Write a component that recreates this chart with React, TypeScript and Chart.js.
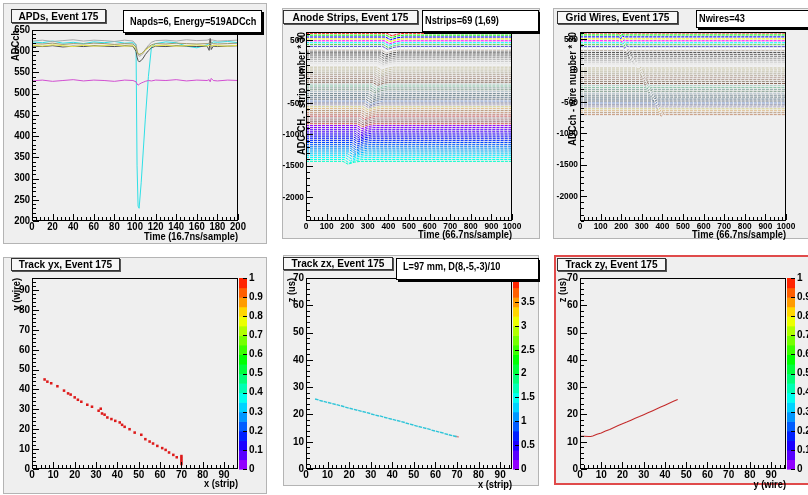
import React, { useEffect, useRef } from "react";
import { Chart, registerables } from "chart.js";
Chart.register(...registerables);

const FONT = '"Liberation Sans", Arial, Helvetica, sans-serif';
const PAD_BG = "#efefef";

// ---------------- APD traces (sample, ADC) ----------------
const apdSamples = [0, 10, 20, 30, 40, 50, 60, 70, 80, 90, 98, 101, 102, 103, 104, 106, 108, 110, 113, 116, 120, 130, 140, 150, 160, 170, 172, 173, 174, 176, 180, 190, 200];
const apdMagenta = [530, 532, 529, 531, 533, 530, 532, 531, 529, 532, 531, 528, 523, 520, 522, 525, 527, 529, 531, 530, 532, 531, 533, 530, 532, 531, 533, 528, 536, 531, 530, 532, 531];
const apdOlive = [618, 617, 619, 616, 618, 617, 619, 618, 616, 618, 617, 610, 600, 594, 592, 594, 598, 604, 610, 615, 618, 617, 619, 618, 617, 618, 619, 617, 620, 618, 617, 618, 619];
const apdYellow = [614, 612, 615, 613, 611, 614, 612, 613, 615, 612, 613, 606, 598, 594, 593, 594, 597, 602, 608, 612, 613, 614, 612, 613, 615, 612, 614, 613, 612, 614, 613, 612, 614];
const apdDarkGray = [612, 611, 613, 610, 612, 611, 613, 612, 611, 613, 612, 600, 586, 578, 575, 578, 584, 592, 601, 608, 612, 611, 613, 612, 611, 612, 602, 630, 604, 612, 611, 612, 613];
const apdLightGray = [624, 626, 623, 625, 627, 624, 626, 625, 623, 626, 624, 616, 602, 592, 588, 590, 595, 604, 614, 621, 625, 626, 624, 627, 625, 626, 628, 615, 627, 626, 624, 625, 626];
const apdCyan = [622, 620, 624, 619, 621, 618, 622, 620, 623, 619, 620, 615, 330, 235, 230, 290, 365, 440, 540, 610, 618, 622, 620, 612, 608, 615, 618, 620, 619, 622, 621, 623, 620];
const apdTraces = [apdMagenta, apdOlive, apdYellow, apdDarkGray, apdLightGray, apdCyan];
const apdColors = ["#d24fd2", "#a09a70", "#e6e645", "#505050", "#a8a8a8", "#2ee0e6"];

// ---------------- Anode strips ----------------
const stripBaseline = [610, 580, 550, 520, 490, 460, 430, 400, 370, 340, 310, 280, 250, 220, 190, 160, 130, 100, 70, 40, 10, -20, -50, -80, -110, -140, -170, -200, -230, -260, -290, -320, -350, -380, -410, -440, -470, -500, -530, -560, -590, -620, -650, -680, -710, -740, -770, -800, -830, -860, -890, -920, -950, -980, -1010, -1040, -1070, -1100, -1130, -1160, -1190, -1220, -1250, -1280, -1310, -1340, -1370, -1400, -1430];
const stripPulseTime = [417, 414, 411, 408, 405, 402, 400, 397, 394, 391, 389, 386, 383, 380, 378, 375, 373, 370, 368, 365, 363, 360, 358, 355, 353, 350, 348, 345, 341, 337, 334, 330, 326, 323, 319, 315, 312, 308, 305, 301, 298, 295, 292, 289, 286, 283, 280, 277, 275, 272, 269, 267, 264, 261, 259, 256, 253, 251, 248, 245, 243, 240, 238, 233, 227, 222, 216, 210, 204];
const stripPulseAmp = [40, 42, 45, 44, 48, 46, 50, 47, 45, 44, 46, 48, 50, 52, 49, 47, 45, 48, 50, 52, 54, 51, 49, 47, 46, 48, 50, 53, 55, 52, 50, 48, 46, 49, 51, 54, 56, 53, 50, 48, 47, 50, 52, 55, 57, 54, 51, 49, 48, 50, 53, 56, 58, 55, 52, 50, 48, 51, 54, 57, 59, 56, 53, 51, 49, 52, 55, 58, 45];

// ---------------- Grid wires ----------------
const wireBaseline = [599, 568, 537, 506, 475, 444, 413, 382, 351, 320, 289, 258, 227, 196, 165, 134, 103, 72, 41, 10, -21, -52, -83, -114, -145, -176, -207, -238, -269, -300, -331, -362, -393, -424, -455, -486, -517, -548, -579, -610, -641, -672, -703];
const wirePulseTime = [196, 199, 202, 205, 209, 213, 217, 221, 225, 229, 234, 238, 243, 251, 259, 267, 275, 283, 291, 295, 299, 303, 307, 311, 315, 319, 322, 326, 330, 335, 340, 345, 350, 355, 360, 365, 369, 374, 379, 384, 389, 394, 399];
const wirePulseAmp = [22, 25, 28, 24, 26, 23, 27, 25, 24, 26, 28, 25, 23, 27, 26, 24, 25, 28, 26, 23, 25, 27, 24, 26, 28, 25, 23, 26, 27, 24, 26, 28, 25, 23, 27, 26, 24, 25, 28, 26, 24, 27, 25];

// ---------------- Tracks ----------------
const trackYXStrip = [5.9, 7.2, 9.0, 11.9, 15.0, 16.9, 18.1, 20.0, 21.5, 23.1, 25.9, 28.1, 31.2, 32.2, 32.8, 34.0, 35.3, 37.2, 39.0, 41.1, 42.2, 43.4, 45.7, 48.1, 51.2, 53.1, 55.1, 56.7, 58.7, 61.0, 62.6, 64.2, 66.2, 67.8, 70, 70, 70, 70, 70];
const trackYXWire = [45.0, 43.9, 43.1, 41.6, 39.4, 38.0, 37.4, 36.0, 34.8, 33.8, 32.3, 31.3, 29.3, 30.3, 27.9, 27.3, 25.9, 25.1, 24.2, 23.4, 22.2, 21.2, 20.0, 18.3, 17.2, 15.0, 13.8, 12.8, 11.6, 10.5, 9.6, 8.3, 7.1, 5.9, 2.5, 3.5, 4.5, 5.5, 6.5];
const trackZXStrip = [5, 7, 9, 11, 13, 15, 17, 19, 21, 23, 25, 27, 29, 31, 33, 35, 37, 39, 41, 43, 45, 47, 49, 51, 53, 55, 57, 59, 61, 63, 65, 67, 69];
const trackZXTime = [25.5, 25.0, 24.6, 24.2, 23.8, 23.4, 23.0, 22.5, 22.1, 21.7, 21.3, 20.9, 20.5, 20.0, 19.6, 19.3, 18.8, 18.4, 18.0, 17.6, 17.2, 16.7, 16.3, 15.8, 15.4, 15.0, 14.6, 14.1, 13.7, 13.3, 12.8, 12.4, 12.0];
const trackZXEndStrip = [70];
const trackZXEndTime = [11.9];
const trackZYWire = [0, 2, 4, 5, 6, 8, 10, 12, 14, 16, 18, 20, 22, 24, 26, 28, 30, 32, 34, 36, 38, 40, 42, 44, 46];
const trackZYTime = [12.0, 12.0, 11.9, 11.9, 12.1, 12.7, 13.2, 13.9, 14.5, 15.2, 15.9, 16.6, 17.2, 17.9, 18.6, 19.2, 19.9, 20.6, 21.3, 22.0, 22.7, 23.4, 24.1, 24.8, 25.5];

// ---------------- Tick labels ----------------
const apdXTicks = [0, 20, 40, 60, 80, 100, 120, 140, 160, 180, 200];
const apdYTicks = [200, 250, 300, 350, 400, 450, 500, 550, 600, 650];
const timeXTicks = [0, 100, 200, 300, 400, 500, 600, 700, 800, 900, 1000];
const offsetYTicks = [-2000, -1500, -1000, -500, 0, 500];
const trackXTicks = [0, 10, 20, 30, 40, 50, 60, 70, 80, 90];
const trackZTicks = [0, 10, 20, 30, 40, 50, 60, 70];
const paletteUnitTicks = [0, 0.1, 0.2, 0.3, 0.4, 0.5, 0.6, 0.7, 0.8, 0.9, 1];
const paletteZXTicks = [0, 0.5, 1, 1.5, 2, 2.5, 3, 3.5, 4];

// ROOT default colour table (indices 0..50)
const ROOT_COLORS = ["#ffffff", "#000000", "#ff0000", "#00ff00", "#0000ff", "#ffff00", "#ff00ff", "#00ffff", "#59d454", "#5954d9",
  "#fefefe", "#c0b6ac", "#4d4d4d", "#666666", "#808080", "#999999", "#b3b3b3", "#cccccc", "#e6e6e6", "#f2f2f2",
  "#ccc7ab", "#ccc7ab", "#c2bfa8", "#bab5a3", "#b3a696", "#b8a39c", "#ad998c", "#9c8f82", "#876657", "#b0cfc7",
  "#85c2a3", "#8aa8a1", "#829e8c", "#adbdc7", "#7a8f99", "#758a91", "#698296", "#6e7a85", "#7d99d1", "#80809c",
  "#aba6bf", "#d4cf87", "#deba87", "#bd9e82", "#c7997d", "#bf8278", "#cf5e61", "#ab8f94", "#a6787a", "#946970", "#d45954"];

function rootColor(i: number): string {
  if (i < ROOT_COLORS.length) return ROOT_COLORS[i];
  const hue = 280 - (i - 50) * 5.6;
  return `hsl(${hue},100%,50%)`;
}
function paletteBand(k: number, n: number): string {
  const hue = 280 - ((k * 50) / n + 1) * 5.6;
  return `hsl(${Math.max(0, hue)},100%,50%)`;
}

function txt(c: CanvasRenderingContext2D, s: string, x: number, y: number, size: number, align: CanvasTextAlign, hs = 0.92, rot = 0) {
  c.save();
  c.translate(x, y);
  if (rot) c.rotate(rot);
  c.scale(hs, 1);
  c.font = `bold ${size}px ${FONT}`;
  c.textAlign = align;
  c.textBaseline = "middle";
  c.fillStyle = "#000";
  c.fillText(s, 0, 0);
  c.restore();
}

type Box = { text: string; x: number; y: number; w: number; h: number; tx?: number; ty?: number };
type Ax = { major: number; minor: number; start: number; ticks: number[] };
interface Spec {
  pad: [number, number, number, number];
  padColor: string;
  padWidth: number;
  xa: Ax;
  ya: Ax;
  labelSize: number;
  labelHs: number;
  xLabelY: number;
  xTitle: string;
  xTitleY: number;
  yTitle: string;
  yTitleX: number;
  title: Box;
  stats?: Box;
  palette?: { x0: number; x1: number; max: number; ticks: number[] };
}

function makePlugin(S: Spec) {
  return {
    id: "rootpad",
    beforeDraw(chart: any) {
      const c: CanvasRenderingContext2D = chart.ctx;
      c.save();
      c.fillStyle = "#ffffff";
      c.fillRect(0, 0, chart.width, chart.height);
      const [px, py, pw, ph] = S.pad;
      c.fillStyle = PAD_BG;
      c.fillRect(px, py, pw, ph);
      c.restore();
    },
    afterDraw(chart: any) {
      const c: CanvasRenderingContext2D = chart.ctx;
      const { left, right, top, bottom } = chart.chartArea;
      const xs = chart.scales.x;
      const ys = chart.scales.y;
      c.save();
      const [px, py, pw, ph] = S.pad;
      c.strokeStyle = S.padColor;
      c.lineWidth = S.padWidth;
      const off = S.padWidth % 2 ? 0.5 : 0;
      c.strokeRect(px + off, py + off, pw, ph);
      c.strokeStyle = "#000";
      c.lineWidth = 1;
      c.strokeRect(left + 0.5, top + 0.5, right - left - 1, bottom - top - 1);
      const isMajor = (v: number, m: number) => Math.abs(v / m - Math.round(v / m)) < 1e-6;
      c.beginPath();
      for (let k = 0; ; k++) {
        const v = S.xa.start + k * S.xa.minor;
        if (v > xs.max + 1e-9) break;
        const p = Math.round(xs.getPixelForValue(v)) + 0.5;
        const len = isMajor(v, S.xa.major) ? 6 : 3;
        c.moveTo(p, bottom - 1);
        c.lineTo(p, bottom - 1 - len);
      }
      for (let k = 0; ; k++) {
        const v = S.ya.start + k * S.ya.minor;
        if (v > ys.max + 1e-9) break;
        const p = Math.round(ys.getPixelForValue(v)) + 0.5;
        const len = isMajor(v, S.ya.major) ? 6 : 3;
        c.moveTo(left + 1, p);
        c.lineTo(left + 1 + len, p);
      }
      c.stroke();
      for (const v of S.xa.ticks) txt(c, String(v), xs.getPixelForValue(v), S.xLabelY, S.labelSize, "center", S.labelHs);
      for (const v of S.ya.ticks) txt(c, String(v), left - 2, ys.getPixelForValue(v), S.labelSize, "right", S.labelHs);
      txt(c, S.xTitle, right, S.xTitleY, 10, "right", 0.93);
      txt(c, S.yTitle, S.yTitleX, top, 10, "right", 0.93, -Math.PI / 2);
      if (S.palette) {
        const P = S.palette;
        const n = 20;
        const h = (bottom - top) / n;
        for (let k = 0; k < n; k++) {
          c.fillStyle = paletteBand(k, n);
          c.fillRect(P.x0, bottom - (k + 1) * h, P.x1 - P.x0, h + 0.6);
        }
        c.strokeStyle = "#000";
        c.beginPath();
        for (const v of P.ticks) {
          const y = Math.round(bottom - (v / P.max) * (bottom - top)) + 0.5;
          c.moveTo(P.x1, y);
          c.lineTo(P.x1 - 4, y);
        }
        c.stroke();
        for (const v of P.ticks) {
          const y = bottom - (v / P.max) * (bottom - top);
          txt(c, String(v), P.x1 + 2, y, S.labelSize, "left", S.labelHs);
        }
      }
      const T = S.title;
      c.fillStyle = "#555";
      c.fillRect(T.x + 1, T.y + 1, T.w, T.h);
      c.fillStyle = "#f7f7f7";
      c.fillRect(T.x, T.y, T.w, T.h);
      c.strokeStyle = "#333";
      c.lineWidth = 1;
      c.strokeRect(T.x + 0.5, T.y + 0.5, T.w - 1, T.h - 1);
      txt(c, T.text, T.x + T.w / 2, T.y + T.h / 2 + 0.5, 11, "center", 0.92);
      if (S.stats) {
        const B = S.stats;
        c.fillStyle = "#000";
        c.fillRect(B.x + 2, B.y + 2, B.w, B.h);
        c.fillStyle = "#ffffff";
        c.fillRect(B.x, B.y, B.w, B.h);
        c.strokeStyle = "#000";
        c.strokeRect(B.x + 0.5, B.y + 0.5, B.w - 1, B.h - 1);
        txt(c, B.text, B.tx ?? B.x + 4, B.ty ?? B.y + B.h / 2, 10, "left", 0.92);
      }
      c.restore();
    },
  };
}

function baseOptions(W: number, H: number, area: [number, number, number, number], xr: [number, number], yr: [number, number]) {
  const [l, t, r, b] = area;
  return {
    responsive: false,
    animation: false,
    events: [],
    layout: { padding: { left: l, top: t, right: W - r, bottom: H - b } },
    plugins: { legend: { display: false }, tooltip: { enabled: false } },
    scales: {
      x: { type: "linear", min: xr[0], max: xr[1], display: false },
      y: { type: "linear", min: yr[0], max: yr[1], display: false },
    },
  };
}

function Panel({ left, top, width, height, build }: { left: number; top: number; width: number; height: number; build: () => any }) {
  const ref = useRef<HTMLCanvasElement>(null);
  useEffect(() => {
    const chart = new Chart(ref.current as HTMLCanvasElement, build());
    return () => chart.destroy();
  }, []);
  return <canvas ref={ref} width={width} height={height} style={{ position: "absolute", left, top, width, height }} />;
}

function buildAPD() {
  const W = 270, H = 248;
  const spec: Spec = {
    pad: [3, 3, 263, 240], padColor: "#b4b4b4", padWidth: 1,
    xa: { major: 20, minor: 4, start: 0, ticks: apdXTicks },
    ya: { major: 50, minor: 10, start: 200, ticks: apdYTicks },
    labelSize: 10, labelHs: 0.95, xLabelY: 227,
    xTitle: "Time (16.7ns/sample)", xTitleY: 237, yTitle: "ADCch", yTitleX: 16,
    title: { text: "APDs, Event 175", x: 11, y: 9, w: 95, h: 14 },
    stats: { text: "Napds=6, Energy=519ADCch", x: 123, y: 10, w: 139, h: 23, tx: 130, ty: 22 },
  };
  return {
    type: "scatter",
    data: {
      datasets: apdTraces.map((vals, i) => ({
        data: apdSamples.map((s, k) => ({ x: s, y: vals[k] })),
        showLine: true, borderColor: apdColors[i], borderWidth: 1, pointRadius: 0,
      })),
    },
    options: baseOptions(W, H, [32, 30, 238, 221], [0, 200], [200, 650]),
    plugins: [makePlugin(spec)],
  };
}

function buildStrips() {
  const W = 270, H = 248;
  const spec: Spec = {
    pad: [12, 8, 257, 230], padColor: "#b4b4b4", padWidth: 1,
    xa: { major: 100, minor: 20, start: 0, ticks: timeXTicks },
    ya: { major: 500, minor: 100, start: -2300, ticks: offsetYTicks },
    labelSize: 9.5, labelHs: 0.88, xLabelY: 226,
    xTitle: "Time (66.7ns/sample)", xTitleY: 235, yTitle: "ADC CH. - strip number * 30", yTitleX: 32,
    title: { text: "Anode Strips, Event 175", x: 13, y: 10, w: 135, h: 14 },
    stats: { text: "Nstrips=69 (1,69)", x: 152, y: 10, w: 117, h: 22, tx: 155, ty: 21 },
  };
  const datasets = stripBaseline.map((b, j) => {
    const t = stripPulseTime[j], a = stripPulseAmp[j];
    return {
      data: [{ x: 0, y: b }, { x: t - 25, y: b }, { x: t, y: b - a }, { x: t + 30, y: b - a * 0.3 }, { x: t + 60, y: b }, { x: 1000, y: b }],
      showLine: true, borderColor: rootColor(j + 2), borderWidth: 1, pointRadius: 0, borderDash: [3, 1],
    };
  });
  return {
    type: "scatter",
    data: { datasets },
    options: baseOptions(W, H, [36, 32, 242, 221], [0, 1000], [-2380, 630]),
    plugins: [makePlugin(spec)],
  };
}

function buildWires() {
  const W = 268, H = 248;
  const spec: Spec = {
    pad: [13, 8, 260, 230], padColor: "#b4b4b4", padWidth: 1,
    xa: { major: 100, minor: 20, start: 0, ticks: timeXTicks },
    ya: { major: 500, minor: 100, start: -2400, ticks: offsetYTicks },
    labelSize: 9.5, labelHs: 0.88, xLabelY: 226,
    xTitle: "Time (66.7ns/sample)", xTitleY: 235, yTitle: "ADCch - wire number * 30", yTitleX: 33,
    title: { text: "Grid Wires, Event 175", x: 17, y: 11, w: 121, h: 13 },
    stats: { text: "Nwires=43", x: 156, y: 10, w: 130, h: 18, tx: 159, ty: 19.5 },
  };
  const datasets = wireBaseline.map((b, j) => {
    const t = wirePulseTime[j], a = wirePulseAmp[j];
    return {
      data: [{ x: 0, y: b }, { x: t - 12, y: b }, { x: t - 4, y: b - a }, { x: t + 4, y: b + a * 0.6 }, { x: t + 12, y: b }, { x: 1000, y: b }],
      showLine: true, borderColor: rootColor(j + 2), borderWidth: 1, pointRadius: 0, borderDash: [3, 1],
    };
  });
  return {
    type: "scatter",
    data: { datasets },
    options: baseOptions(W, H, [40, 32, 246, 221], [0, 1000], [-2400, 615]),
    plugins: [makePlugin(spec)],
  };
}

function buildYX() {
  const W = 270, H = 247;
  const spec: Spec = {
    pad: [3, 9, 263, 236], padColor: "#b4b4b4", padWidth: 1,
    xa: { major: 10, minor: 2, start: 0, ticks: trackXTicks },
    ya: { major: 10, minor: 2, start: 0, ticks: trackXTicks },
    labelSize: 10.5, labelHs: 0.95, xLabelY: 227,
    xTitle: "x (strip)", xTitleY: 236, yTitle: "y (wire)", yTitleX: 17,
    title: { text: "Track yx, Event 175", x: 11, y: 10, w: 109, h: 13 },
    palette: { x0: 239, x1: 247, max: 1, ticks: paletteUnitTicks },
  };
  return {
    type: "scatter",
    data: {
      datasets: [{
        data: trackYXStrip.map((x, k) => ({ x, y: trackYXWire[k] })),
        pointStyle: "rect", pointRadius: 1.8, backgroundColor: "#dd1a1a", borderWidth: 0,
      }],
    },
    options: baseOptions(W, H, [32, 30, 238, 221], [0, 96.5], [0, 96]),
    plugins: [makePlugin(spec)],
  };
}

function buildZX() {
  const W = 270, H = 247;
  const spec: Spec = {
    pad: [13, 7, 255, 230], padColor: "#b4b4b4", padWidth: 1,
    xa: { major: 10, minor: 2, start: 0, ticks: trackXTicks },
    ya: { major: 10, minor: 2, start: 0, ticks: trackZTicks },
    labelSize: 10.5, labelHs: 0.95, xLabelY: 227,
    xTitle: "x (strip)", xTitleY: 237, yTitle: "z (us)", yTitleX: 22,
    title: { text: "Track zx, Event 175", x: 13, y: 9, w: 110, h: 13 },
    stats: { text: "L=97 mm, D(8,-5,-3)/10", x: 126, y: 10, w: 143, h: 22, tx: 133, ty: 19.5 },
    palette: { x0: 243, x1: 249, max: 4, ticks: paletteZXTicks },
  };
  return {
    type: "scatter",
    data: {
      datasets: [
        {
          data: trackZXStrip.map((x, k) => ({ x, y: trackZXTime[k] })),
          pointStyle: "line", pointRadius: 1.8, rotation: 15, borderColor: "#2cc4d8", borderWidth: 1.4,
        },
        {
          data: trackZXEndStrip.map((x, k) => ({ x, y: trackZXEndTime[k] })),
          pointStyle: "line", pointRadius: 1.8, rotation: 15, borderColor: "#e08888", borderWidth: 1.4,
        },
      ],
    },
    options: baseOptions(W, H, [36, 30, 242, 221], [0, 95.5], [0, 70]),
    plugins: [makePlugin(spec)],
  };
}

function buildZY() {
  const W = 268, H = 247;
  const spec: Spec = {
    pad: [15, 8, 262, 228], padColor: "#e04a4a", padWidth: 2,
    xa: { major: 10, minor: 2, start: 0, ticks: trackXTicks },
    ya: { major: 10, minor: 2, start: 0, ticks: trackZTicks },
    labelSize: 10.5, labelHs: 0.95, xLabelY: 227,
    xTitle: "y (wire)", xTitleY: 237, yTitle: "z (us)", yTitleX: 23,
    title: { text: "Track zy, Event 175", x: 17, y: 10, w: 109, h: 13 },
    palette: { x0: 247, x1: 255, max: 1, ticks: paletteUnitTicks },
  };
  return {
    type: "scatter",
    data: {
      datasets: [{
        data: trackZYWire.map((x, k) => ({ x, y: trackZYTime[k] })),
        showLine: true, borderColor: "#c42b2b", borderWidth: 1.1, pointRadius: 0,
      }],
    },
    options: baseOptions(W, H, [40, 30, 246, 221], [0, 97], [0, 70]),
    plugins: [makePlugin(spec)],
  };
}

export default function App() {
  return (
    <div style={{ position: "absolute", left: 0, top: 0, width: 808, height: 495, background: "#ffffff", overflow: "hidden" }}>
      <Panel left={0} top={0} width={270} height={248} build={buildAPD} />
      <Panel left={270} top={0} width={270} height={248} build={buildStrips} />
      <Panel left={540} top={0} width={268} height={248} build={buildWires} />
      <Panel left={0} top={248} width={270} height={247} build={buildYX} />
      <Panel left={270} top={248} width={270} height={247} build={buildZX} />
      <Panel left={540} top={248} width={268} height={247} build={buildZY} />
    </div>
  );
}
